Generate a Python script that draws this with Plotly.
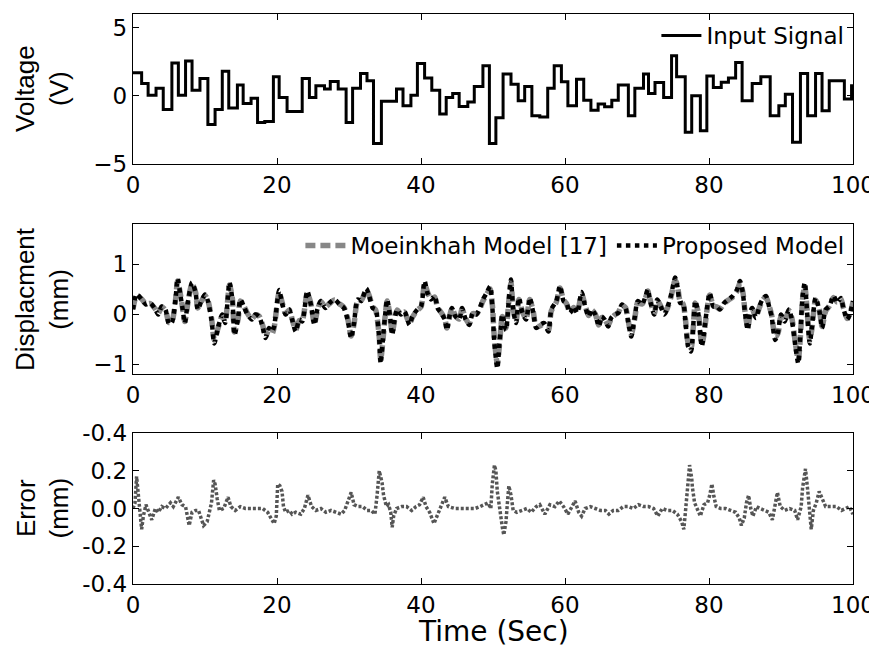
import plotly.graph_objects as go
from plotly.subplots import make_subplots

# ---------------- data ----------------
# Input signal: step start times and step values (last entry closes the final step)
sig_t = [0, 1.2, 2.1, 3.2, 4.2, 5.4, 6.3, 7.3, 8.2, 9.3,
         10.4, 11.4, 12.4, 13.3, 14.5, 15.3, 16.4, 17.3, 18.3, 19.5,
         20.3, 21.4, 23.5, 24.5, 25.4, 26.6, 27.4, 28.5, 29.6, 30.5,
         31.6, 32.5, 33.4, 34.5, 36.6, 37.5, 38.6, 39.5, 40.5, 41.5,
         42.6, 43.5, 44.4, 45.3, 46.5, 47.4, 48.6, 49.5, 50.4, 51.4,
         52.5, 53.5, 54.4, 55.4, 56.5, 57.6, 58.5, 59.5, 60.4, 61.6,
         62.6, 63.6, 64.6, 65.5, 66.5, 67.4, 68.8, 69.7, 70.9, 71.6,
         72.5, 73.7, 74.8, 75.5, 76.7, 77.6, 78.8, 79.7, 80.6, 81.7,
         82.7, 83.7, 84.6, 86.0, 87.2, 88.5, 89.7, 90.6, 91.6, 92.7,
         93.7, 94.8, 95.7, 96.7, 98.8, 99.8, 100]
sig_v = [1.7, 0.9, 0.05, 0.56, -1.0, 2.4, 0.05, 2.56, 0.4, 1.27,
         -2.1, -1.0, 1.8, -0.9, 0.8, -0.56, -0.17, -1.95, -1.88, 1.4,
         -0.12, -1.15, 1.27, -0.12, 0.73, 0.5, 1.05, 0.5, -1.95, 0.56,
         1.63, 1.1, -3.5, -0.4, 0.5, -0.73, 0.05, 2.37, 1.3, 0.4,
         -1.34, -0.12, 0.17, -0.78, -0.45, 0.68, 2.2, -3.5, -1.6, 1.6,
         0.85, -0.37, 0.68, -1.47, -1.55, 0.56, 2.2, 1.04, -0.73, 1.22,
         -0.32, -1.05, -0.6, -0.8, -0.32, 0.8, -1.47, 0.56, 1.6, 0.17,
         0.97, -0.12, 2.93, 1.39, -2.68, 0.0, -2.56, 1.46, 0.61, 1.0,
         1.3, 2.44, -0.37, 0.9, 1.39, -1.46, -0.73, 0.12, -3.4, 1.64,
         -1.46, 1.64, -1.1, 1.1, -0.24, 0.73, 0.73]

# Displacement (mm)
disp_t = [0, 0.5, 1.2, 1.8, 2.4, 3.1, 3.5, 4.0, 4.5, 5.0,
          5.4, 5.9, 6.2, 6.6, 6.9, 7.2, 7.6, 8.2, 8.7, 9.0,
          9.5, 10.0, 10.4, 10.9, 11.3, 11.8, 12.4, 12.8, 13.4, 13.8,
          14.1, 14.6, 14.9, 15.4, 15.9, 16.5, 17.0, 17.5, 18.0, 18.4,
          18.9, 19.3, 19.6, 20.3, 20.7, 21.2, 21.7, 22.1, 22.6, 23.1,
          23.5, 24.2, 24.7, 25.2, 25.6, 26.1, 26.7, 27.3, 28.0, 28.7,
          29.3, 29.8, 30.3, 30.7, 31.2, 31.7, 32.4,
          32.8, 33.3, 33.7, 34.2, 34.4, 34.7, 35.0, 35.3, 35.7, 36.0,
          36.4, 36.7, 37.2, 37.7, 38.4, 38.8, 39.5, 40.0, 40.5, 40.9,
          41.4, 41.9, 42.3, 42.8, 43.3, 43.6, 44.0, 44.3, 44.8, 45.3,
          45.7, 46.2, 46.7, 47.2, 47.7, 48.1, 48.6, 49.1, 49.6, 49.9,
          50.2, 50.6, 50.9, 51.3, 51.8, 52.2, 52.5, 52.8, 53.2, 53.6,
          54.1, 54.6, 55.1, 55.6, 56.0, 56.5, 57.1, 57.7, 58.1, 58.8,
          59.3, 59.8, 60.2, 60.7, 61.2, 61.7, 62.3, 62.8, 63.3, 63.7,
          64.2, 64.7, 65.1,
          65.5, 66.0, 66.4, 66.9, 67.4, 67.9, 68.4, 68.8, 69.2, 69.7,
          70.1, 70.7, 71.2, 71.5, 71.9, 72.4, 72.8, 73.3, 73.8, 74.2,
          74.7, 75.3, 75.6, 76.0, 76.4, 76.7, 77.1, 77.5, 77.8, 78.1,
          78.5, 79.0, 79.3, 79.7, 80.1, 80.6, 81.1, 81.5, 82.1, 82.7,
          83.3, 83.9, 84.3, 84.7, 85.0, 85.4, 85.7, 86.0, 86.5, 87.0,
          87.4, 87.9, 88.4, 88.7, 89.2, 89.6, 90.0, 90.5, 91.1, 91.5,
          92.0, 92.4, 92.7, 93.0, 93.3, 93.6, 94.0, 94.3, 94.8, 95.3,
          95.7, 96.2, 96.7, 97.3, 97.8, 98.3, 98.7, 99.2, 99.6, 100]
proposed = [0.09, 0.40, 0.29, 0.19, 0.22, 0.09, -0.01, 0.15, 0.09, -0.20,
            -0.17, 0.29, 0.71, 0.36, 0.09, -0.18, 0.22, 0.63, 0.42, 0.09,
            0.26, 0.39, 0.26, -0.11, -0.59, -0.28, -0.01, -0.18, 0.63, 0.29,
            -0.42, -0.08, 0.29, 0.15, -0.01, -0.11, -0.01, -0.05, -0.25, -0.48,
            -0.28, -0.35, -0.25, 0.48, 0.22, -0.01, 0.09, -0.11, -0.35, -0.11,
            -0.15, 0.46, 0.19, -0.22, 0.09, 0.26, 0.12, 0.22, 0.29, 0.19,
            0.12, -0.11, -0.48, -0.18, 0.29, 0.26, 0.51,
            0.36, 0.12, 0.09, -0.52, -0.99, -0.52, -0.05, 0.29, -0.05, -0.42,
            -0.05, 0.09, -0.01, 0.05, -0.22, -0.05, 0.09, 0.15, 0.66, 0.42,
            0.29, 0.36, 0.12, 0.02, -0.11, -0.32, -0.01, 0.12, -0.05, -0.11,
            0.12, -0.11, -0.22, 0.02, -0.01, 0.09, 0.29, 0.42, 0.55, 0.15,
            -0.59, -1.09, -0.59, -0.01, -0.32, 0.29, 0.69, 0.09, -0.18, 0.32,
            0.02, -0.11, 0.32, 0.02, -0.28, -0.22, -0.18, -0.35, 0.09, 0.26,
            0.56, 0.26, 0.22, 0.02, 0.15, 0.02, 0.44, 0.15, -0.05, 0.09,
            -0.01, -0.25, -0.05,
            -0.11, -0.25, -0.08, -0.01, 0.02, 0.19, 0.12, -0.18, -0.45, -0.05,
            0.26, 0.19, 0.36, 0.49, 0.22, -0.01, 0.29, 0.15, -0.01, 0.12,
            0.36, 0.73, 0.56, 0.22, 0.22, -0.11, -0.65, -0.75, -0.25, 0.26,
            0.02, -0.65, -0.38, 0.09, 0.42, 0.15, 0.15, 0.09, 0.22, 0.29,
            0.36, 0.49, 0.66, 0.42, 0.02, -0.32, 0.02, 0.12, -0.08, 0.15,
            0.29, 0.36, 0.12, -0.05, -0.52, -0.35, -0.01, -0.15, 0.09, -0.11,
            -0.65, -0.99, -0.38, 0.36, 0.63, 0.09, -0.59, -0.25, 0.32, 0.09,
            -0.28, 0.09, 0.15, 0.36, 0.22, 0.32, 0.09, -0.11, 0.02, 0.26]
moeinkhah = [0.10, 0.37, 0.30, 0.20, 0.21, 0.10, 0.01, 0.14, 0.08, -0.17,
             -0.15, 0.27, 0.66, 0.38, 0.11, -0.15, 0.20, 0.60, 0.43, 0.12,
             0.25, 0.37, 0.27, -0.08, -0.52, -0.29, -0.03, -0.15, 0.58, 0.31,
             -0.36, -0.10, 0.26, 0.16, 0.01, -0.10, -0.02, -0.04, -0.22, -0.45,
             -0.30, -0.40, -0.27, 0.43, 0.24, 0.01, 0.08, -0.10, -0.32, -0.13,
             -0.13, 0.42, 0.21, -0.20, 0.07, 0.25, 0.14, 0.21, 0.28, 0.20,
             0.13, -0.08, -0.44, -0.20, 0.26, 0.27, 0.48,
             0.37, 0.14, 0.08, -0.46, -0.92, -0.55, -0.07, 0.26, -0.03, -0.38,
             -0.07, 0.08, 0.00, 0.04, -0.19, -0.07, 0.08, 0.14, 0.60, 0.44,
             0.30, 0.34, 0.13, 0.03, -0.09, -0.28, -0.03, 0.11, -0.04, -0.10,
             0.10, -0.09, -0.20, 0.01, 0.00, 0.08, 0.26, 0.39, 0.50, 0.20,
             -0.50, -1.00, -0.62, -0.05, -0.28, 0.26, 0.62, 0.12, -0.15, 0.29,
             0.04, -0.09, 0.29, 0.04, -0.26, -0.24, -0.20, -0.33, 0.06, 0.24,
             0.52, 0.28, 0.21, 0.03, 0.13, 0.03, 0.40, 0.17, -0.03, 0.08,
             0.00, -0.22, -0.07,
             -0.10, -0.22, -0.10, -0.02, 0.03, 0.17, 0.13, -0.15, -0.41, -0.08,
             0.23, 0.20, 0.33, 0.46, 0.24, 0.01, 0.27, 0.16, 0.01, 0.11,
             0.33, 0.68, 0.58, 0.25, 0.20, -0.07, -0.58, -0.68, -0.30, 0.22,
             0.04, -0.60, -0.42, 0.06, 0.38, 0.17, 0.14, 0.10, 0.21, 0.28,
             0.34, 0.46, 0.62, 0.44, 0.05, -0.28, 0.00, 0.11, -0.06, 0.13,
             0.27, 0.34, 0.14, -0.02, -0.46, -0.38, -0.04, -0.13, 0.07, -0.08,
             -0.58, -0.92, -0.44, 0.30, 0.57, 0.13, -0.52, -0.29, 0.28, 0.11,
             -0.25, 0.06, 0.16, 0.33, 0.24, 0.30, 0.11, -0.09, 0.01, 0.24]

# Error (mm)
err_t = [0, 0.28, 0.5, 0.74, 1.0, 1.2, 1.44, 1.8, 2.1, 2.6,
         3.1, 3.5, 4.0, 4.5, 5.2, 5.6, 6.3, 6.8, 7.3, 7.8,
         8.2, 8.7, 9.1, 9.35, 9.8, 10.3, 10.65, 10.9, 11.2, 11.4,
         11.7, 12.0, 12.6, 13.2, 13.6, 14.2, 14.9, 15.6, 16.3, 17.3,
         18.0, 18.7, 19.1, 19.6, 19.9, 20.1, 20.4, 20.7, 20.9, 21.2,
         21.7, 22.1, 22.6, 23.3, 23.8, 24.3, 24.8, 25.4, 26.1, 26.8,
         27.5, 28.2, 28.9, 29.4, 29.8, 30.3, 30.7, 31.3, 31.9, 32.5,
         33.1, 33.6, 33.9, 34.2, 34.6, 34.8, 35.2, 35.5, 35.8, 36.0,
         36.2, 36.6, 37.3, 38.0, 38.7, 39.3, 39.8, 40.3, 40.7, 41.2,
         41.8, 42.3, 42.8, 43.3, 43.8, 44.7, 45.6, 46.6, 47.5, 48.2,
         48.9, 49.3, 49.7, 49.9, 50.2, 50.4, 50.6, 50.9, 51.3, 51.5,
         51.8, 52.0, 52.2, 52.5, 52.8, 53.3, 54.0, 54.7, 55.3, 56.0,
         56.5, 57.2, 57.9, 58.6, 59.2, 59.8, 60.4, 61.0, 61.4, 61.9,
         62.3, 62.8, 63.5, 64.2, 64.9, 65.6, 66.1, 66.7, 67.4, 68.1,
         68.8, 69.5, 70.2, 70.9, 71.6, 72.3, 72.9, 73.5, 74.2, 74.9,
         75.6, 76.2, 76.5, 76.7, 77.0, 77.3, 77.6, 77.7, 78.0, 78.4,
         78.8, 79.3, 79.8, 80.1, 80.4, 80.7, 81.0, 81.6, 82.3, 83.0,
         83.7, 84.2, 84.5, 84.9, 85.2, 85.5, 85.8, 86.1, 86.6, 87.1,
         87.7, 88.3, 88.8, 89.2, 89.5, 89.9, 90.5, 91.2, 91.9, 92.3,
         92.8, 93.0, 93.4, 93.7, 94.0, 94.2, 94.5, 94.9, 95.3, 95.7,
         96.2, 97.0, 97.7, 98.4, 99.1, 99.5, 100]
err_v = [0.0, 0.03, 0.17, 0.09, -0.03, -0.11, -0.04, 0.02, -0.01, -0.06,
         0.0, -0.02, 0.01, 0.0, 0.03, 0.01, 0.06, 0.02, 0.01, -0.09,
         -0.02, -0.01, -0.01, -0.04, -0.09, -0.07, -0.02, 0.03, 0.15, 0.13,
         0.05, -0.01, 0.0, 0.06, 0.01, -0.01, 0.01, 0.0, 0.0, 0.0,
         0.0, -0.02, -0.05, -0.08, -0.04, 0.13, 0.12, 0.09, 0.01, -0.02,
         -0.01, -0.03, -0.02, -0.03, 0.0, 0.07, 0.01, -0.01, 0.0, -0.02,
         -0.01, -0.02, -0.03, -0.01, 0.03, 0.085, 0.02, 0.01, 0.01, -0.01,
         -0.01, -0.03, 0.07, 0.2, 0.135, 0.07, 0.01, 0.02, -0.02, -0.1,
         -0.04, 0.0, 0.01, 0.01, -0.01, 0.01, 0.02, 0.06, 0.01, -0.02,
         -0.08, -0.03, 0.01, 0.06, 0.01, 0.0, 0.0, 0.0, 0.0, 0.01,
         0.02, 0.03, 0.0, 0.13, 0.23, 0.2, 0.09, 0.0, -0.1, -0.14,
         -0.07, 0.03, 0.12, 0.07, -0.01, -0.02, -0.01, 0.0, -0.02, 0.01,
         0.02, -0.03, 0.02, 0.01, 0.04, 0.01, -0.03, 0.01, 0.04, -0.02,
         -0.04, 0.0, 0.01, 0.0, -0.01, -0.01, -0.03, -0.01, -0.01, 0.01,
         0.01, 0.0, 0.02, 0.01, 0.01, 0.0, -0.04, 0.0, -0.01, -0.01,
         -0.03, -0.07, -0.11, -0.03, 0.13, 0.23, 0.16, 0.11, 0.03, -0.01,
         -0.04, 0.02, 0.03, 0.07, 0.13, 0.06, 0.01, 0.0, 0.0, -0.01,
         -0.02, -0.05, -0.09, -0.05, 0.03, 0.07, 0.0, -0.04, 0.01, 0.0,
         -0.01, -0.02, -0.06, 0.03, 0.085, 0.01, -0.01, 0.0, -0.01, -0.06,
         0.01, 0.11, 0.21, 0.1, -0.04, -0.11, -0.01, 0.03, 0.09, 0.05,
         0.01, 0.01, 0.01, -0.01, 0.0, 0.01, -0.03]

x_ticks = [0, 20, 40, 60, 80, 100]
volt_ticks = [-5, 0, 5]
disp_ticks = [-1, 0, 1]
err_ticks = [-0.4, -0.2, 0.0, 0.2, 0.4]
err_ticktext = ["-0.4", "-0.2", "0.0", "0.2", "-0.4"]

# ---------------- figure ----------------
WIDE = "DejaVu Sans, Verdana, sans-serif"        # matches the stretched look of the reference
NARROW = "Liberation Sans, Arial, sans-serif"    # for the vertical axis titles
TICK_FS, LEG_FS, YT_FS, XT_FS = 23, 23, 26, 28

fig = make_subplots(rows=3, cols=1, shared_xaxes=False, vertical_spacing=0.0)

fig.add_trace(go.Scatter(x=sig_t, y=sig_v, mode="lines", line_shape="hv",
                         line=dict(color="black", width=3),
                         name="Input Signal", legend="legend"), row=1, col=1)

fig.add_trace(go.Scatter(x=disp_t, y=moeinkhah, mode="lines", line_shape="spline",
                         line=dict(color="rgb(135,135,135)", width=5.5, dash="10px,5px", smoothing=0.7),
                         name="Moeinkhah Model [17]", legend="legend2"), row=2, col=1)
fig.add_trace(go.Scatter(x=disp_t, y=proposed, mode="lines", line_shape="spline",
                         line=dict(color="black", width=4.5, dash="4.5px,4.5px", smoothing=0.7),
                         name="Proposed Model", legend="legend2"), row=2, col=1)

fig.add_trace(go.Scatter(x=err_t, y=err_v, mode="lines",
                         line=dict(color="rgb(85,85,85)", width=3.5, dash="3px,2px"),
                         showlegend=False), row=3, col=1)

# The page body adds an 8 px offset, so the figure is 8 px smaller and
# all target positions (window px) are shifted by -8.
OFF = 8
W, H = 877 - OFF, 648 - OFF
L, R, T, B = 133 - OFF, 853 - OFF, 14 - OFF, 584 - OFF   # plot area in figure px
ml, mr, mt, mb = L, W - R, T, H - B
ph = H - mt - mb
pw = W - ml - mr

def dom(top_px, bot_px):
    top_px -= OFF
    bot_px -= OFF
    return [(B - bot_px) / ph, (B - top_px) / ph]

d1, d2, d3 = dom(14, 164), dom(224, 374), dom(433, 584)

axis_common = dict(showline=True, linecolor="black", linewidth=1.4, mirror="ticks",
                   ticks="inside", ticklen=6, tickcolor="black", tickwidth=1,
                   showgrid=False, zeroline=False, automargin=False,
                   tickfont=dict(family=WIDE, size=TICK_FS, color="black"))

for i in (1, 2, 3):
    fig.update_xaxes(range=[0, 100], tickvals=x_ticks, row=i, col=1, **axis_common)

fig.update_yaxes(range=[-5, 6], tickvals=volt_ticks, domain=d1, row=1, col=1, **axis_common)
fig.update_yaxes(range=[-1.2, 1.8], tickvals=disp_ticks, domain=d2, row=2, col=1, **axis_common)
fig.update_yaxes(range=[-0.4, 0.4], tickvals=err_ticks, ticktext=err_ticktext,
                 domain=d3, row=3, col=1, **axis_common)

xt = (42 - OFF - ml) / pw
annots = []
for txt, d in (("Voltage<br>(V)", d1), ("Displacment<br>(mm)", d2), ("Error<br>(mm)", d3)):
    annots.append(dict(text=txt, xref="paper", yref="paper", x=xt, y=(d[0] + d[1]) / 2,
                       xanchor="center", yanchor="middle", textangle=-90, showarrow=False,
                       font=dict(family=NARROW, size=YT_FS, color="black")))
annots.append(dict(text="Time (Sec)", xref="paper", yref="paper", x=0.5,
                   y=(B - (631 - OFF)) / ph, xanchor="center", yanchor="middle", showarrow=False,
                   font=dict(family=WIDE, size=XT_FS, color="black")))

fig.update_layout(
    width=W, height=H,
    margin=dict(l=ml, r=mr, t=mt, b=mb, autoexpand=False),
    paper_bgcolor="white", plot_bgcolor="white",
    font=dict(family=WIDE, size=TICK_FS, color="black"),
    annotations=annots,
    legend=dict(x=0.995, xanchor="right", y=d1[1], yanchor="top",
                bgcolor="rgba(0,0,0,0)", borderwidth=0,
                font=dict(family=WIDE, size=LEG_FS, color="black"),
                itemwidth=40, tracegroupgap=0),
    legend2=dict(x=0.995, xanchor="right", y=d2[1], yanchor="top", orientation="h",
                 bgcolor="rgba(0,0,0,0)", borderwidth=0,
                 font=dict(family=WIDE, size=LEG_FS, color="black"),
                 itemwidth=40),
)

fig.write_html("out.html")
